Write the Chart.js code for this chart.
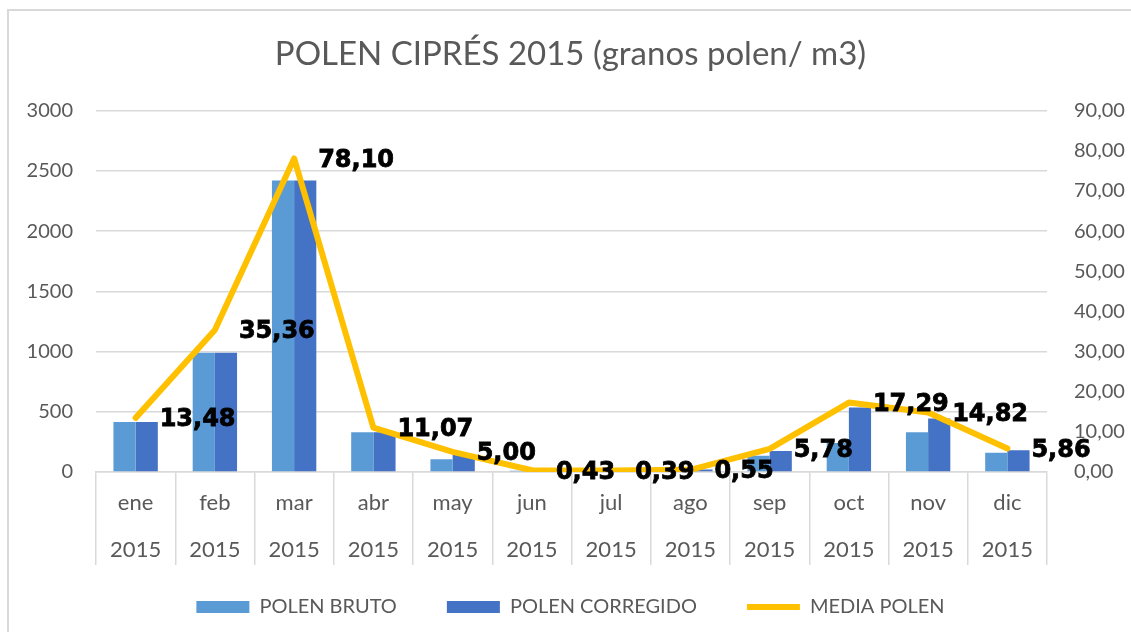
<!DOCTYPE html>
<html>
<head>
<meta charset="utf-8">
<script src="https://cdn.jsdelivr.net/npm/chart.js@4/dist/chart.umd.min.js"></script>
<style>
  html, body { margin: 0; padding: 0; background: #fff; }
  #wrap { width: 1131px; height: 632px; position: relative; }
</style>
</head>
<body>
<div id="wrap"><canvas id="polen" width="1131" height="632"></canvas></div>
<script>
// datos
const meses = ['ene', 'feb', 'mar', 'abr', 'may', 'jun', 'jul', 'ago', 'sep', 'oct', 'nov', 'dic'];
const anio = '2015';
const polenBruto = [415, 990, 2420, 330, 105, 10, 8, 12, 135, 240, 330, 160];
const polenCorregido = [415, 990, 2420, 330, 145, 14, 10, 20, 175, 535, 445, 180];
const mediaPolen = [13.48, 35.36, 78.10, 11.07, 5.00, 0.43, 0.39, 0.55, 5.78, 17.29, 14.82, 5.86];
const ticksIzq = [0, 500, 1000, 1500, 2000, 2500, 3000];
const ticksDer = [0, 10, 20, 30, 40, 50, 60, 70, 80, 90];

const gris = '#595959';
const rejilla = '#d9d9d9';
const amarillo = '#FFC000';
const coma = v => v.toFixed(2).replace('.', ',');

// etiquetas de la linea
const etiquetas = {
  id: 'etiquetas',
  afterDatasetsDraw(chart) {
    const ctx = chart.ctx;
    const meta = chart.getDatasetMeta(2);
    ctx.save();
    ctx.font = 'bold 24px "DejaVu Sans"';
    ctx.fillStyle = '#000';
    ctx.strokeStyle = '#000';
    ctx.lineWidth = 0.8;
    ctx.textAlign = 'left';
    ctx.textBaseline = 'middle';
    meta.data.forEach((p, i) => {
      const t = coma(mediaPolen[i]);
      ctx.fillText(t, p.x + 24, p.y + 2);
      ctx.strokeText(t, p.x + 24, p.y + 2);
    });
    ctx.restore();
  }
};

// borde del grafico
const borde = {
  id: 'borde',
  beforeDraw(chart) {
    const ctx = chart.ctx;
    ctx.save();
    ctx.fillStyle = '#fff';
    ctx.fillRect(0, 0, chart.width, chart.height);
    ctx.strokeStyle = rejilla;
    ctx.lineWidth = 2;
    ctx.beginPath();
    ctx.moveTo(8, chart.height);
    ctx.lineTo(8, 10);
    ctx.lineTo(chart.width, 10);
    ctx.stroke();
    ctx.restore();
  }
};

const graf = new Chart(document.getElementById('polen').getContext('2d'), {
  type: 'bar',
  data: {
    labels: meses.map(m => [m, anio]),
    datasets: [{
      label: 'POLEN BRUTO',
      data: polenBruto,
      backgroundColor: '#5B9BD5',
      yAxisID: 'y'
    }, {
      label: 'POLEN CORREGIDO',
      data: polenCorregido,
      backgroundColor: '#4472C4',
      yAxisID: 'y'
    }, {
      type: 'line',
      label: 'MEDIA POLEN',
      data: mediaPolen,
      borderColor: amarillo,
      backgroundColor: amarillo,
      borderWidth: 6,
      borderCapStyle: 'round',
      borderJoinStyle: 'round',
      pointRadius: 0,
      tension: 0,
      order: -1,
      yAxisID: 'y1'
    }]
  },
  options: {
    responsive: false,
    animation: false,
    devicePixelRatio: 1,
    datasets: {
      bar: { categoryPercentage: 0.56, barPercentage: 1 }
    },
    layout: { padding: { left: 10, right: 0, top: 12, bottom: 5 } },
    plugins: {
      tooltip: { enabled: false },
      title: {
        display: true,
        text: 'POLEN CIPRÉS 2015 (granos polen/ m3)',
        color: gris,
        font: { family: 'Lato', size: 33, weight: 'normal' },
        padding: { top: 23, bottom: 36 }
      },
      legend: {
        position: 'bottom',
        labels: {
          color: gris,
          font: { family: 'Lato', size: 20 },
          usePointStyle: true,
          pointStyleWidth: 53,
          boxHeight: 12,
          padding: 50,
          sort: (a, b) => a.datasetIndex - b.datasetIndex,
          generateLabels(chart) {
            const items = Chart.defaults.plugins.legend.labels.generateLabels(chart);
            items.forEach(it => {
              if (it.datasetIndex === 2) {
                it.pointStyle = 'line';
                it.lineWidth = 6;
                it.strokeStyle = amarillo;
              } else {
                it.pointStyle = 'rect';
                it.lineWidth = 0;
              }
            });
            return items;
          }
        }
      }
    },
    scales: {
      x: {
        offset: true,
        grid: { offset: true, drawOnChartArea: false, color: rejilla, tickLength: 93, lineWidth: 1.5 },
        border: { color: rejilla, width: 1.5 },
        ticks: {
          color: gris,
          font: { family: 'Lato', size: 22, lineHeight: 2.14 },
          padding: -86,
          maxRotation: 0
        },
        afterFit(s) {
          s.height = 75;
          // las etiquetas del año quedan por debajo de la caja del eje
          s._computeLabelArea = () => undefined;
        }
      },
      y: {
        position: 'left',
        min: 0,
        max: 3000,
        afterBuildTicks(s) { s.ticks = ticksIzq.map(v => ({ value: v })); },
        grid: { color: rejilla, drawTicks: false, lineWidth: 1.5 },
        border: { display: false },
        ticks: { color: gris, font: { family: 'Lato', size: 20 }, padding: 23, callback: v => String(v) },
        afterFit(s) { s.width = 86; }
      },
      y1: {
        position: 'right',
        min: 0,
        max: 90,
        afterBuildTicks(s) { s.ticks = ticksDer.map(v => ({ value: v })); },
        grid: { drawOnChartArea: false, drawTicks: false },
        border: { display: false },
        ticks: { color: gris, font: { family: 'Lato', size: 20 }, padding: 27, callback: v => coma(v) },
        afterFit(s) { s.width = 84; }
      }
    }
  },
  plugins: [borde, etiquetas]
});
</script>
</body>
</html>
